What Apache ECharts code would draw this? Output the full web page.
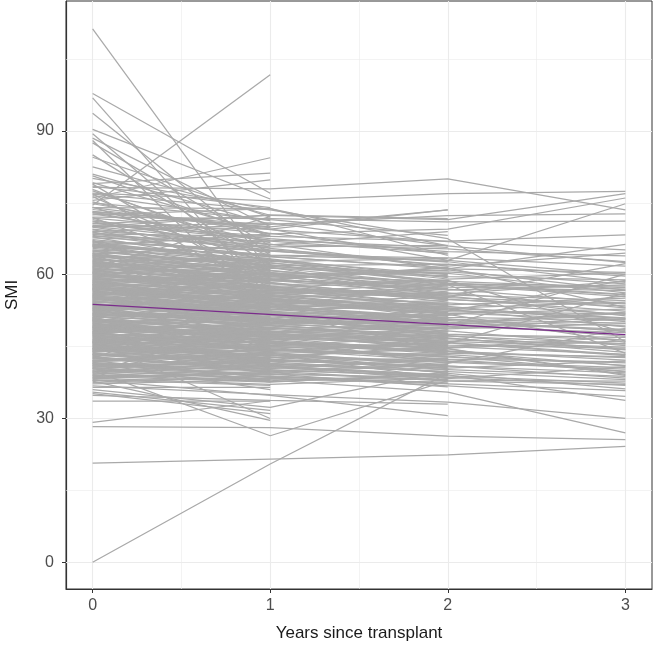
<!DOCTYPE html>
<html>
<head>
<meta charset="utf-8">
<script src="https://cdn.jsdelivr.net/npm/echarts@6/dist/echarts.min.js"></script>
<style>
  html, body { margin: 0; padding: 0; background: #fff; }
  #chart { width: 653px; height: 645px; }
</style>
</head>
<body>
<div id="chart"></div>
<script>
// Time points (years since transplant)
const years = [0, 1, 2, 3];

// Ticks and grid positions
const xTicks = [0, 1, 2, 3];
const xGrid = [0, 0.5, 1, 1.5, 2, 2.5, 3];
const yTicks = [0, 30, 60, 90];
const yGrid = [0, 15, 30, 45, 60, 75, 90, 105];

// Subjects seen at years 0 and 1 only: [year0, year1]
const followedToYear1 = [
  [52.6, 49.3], [60.4, 57.2], [45.9, 43.1], [57.1, 53.8], [48.5, 46.9], [66.9, 62.3],
  [40.9, 41.7], [55.4, 51.1], [71.5, 64.8], [47.2, 45.8], [59.1, 58.6], [42.6, 40.3],
  [50.9, 47.4], [63.2, 60.7], [56.4, 54.9], [38.3, 39.6], [46.6, 42.5], [61.8, 55.7],
  [69.1, 66.8], [44.3, 44.9], [53.5, 50.6], [49.9, 46.3], [58.4, 56.5], [41.4, 38.7],
  [64.1, 59.4], [45.3, 43.7], [51.7, 51.2], [62.7, 58.1], [74.8, 68.5], [43.3, 42.1],
  [57.8, 52.4], [48.1, 48.8], [61.1, 59.9], [39.5, 37.8], [54.2, 53.6], [67.9, 61.6],
  [37.2, 38.1], [50.3, 45.9], [59.7, 57.7], [46.8, 44.6], [52.8, 54.3], [65.2, 63.4],
  [43.6, 40.8], [56.6, 53.1], [49.2, 47.8], [60.2, 56.9], [42.2, 43.5], [55.1, 52.2],
  [72.7, 67.1], [47.9, 45.1], [58.9, 59.3], [44.7, 41.4], [51.2, 49.7], [63.7, 61.2],
  [40.1, 39.1], [53.9, 48.4], [68.4, 65.6], [46.1, 46.7], [57.3, 55.4], [50.5, 52.1],
  [54.8, 52.3], [47.5, 44.2], [61.9, 60.1], [43.8, 46.4], [58.6, 54.2], [50.8, 48.5],
  [65.7, 64.3], [40.6, 37.9], [56.2, 57.8], [45.1, 42.7], [52.3, 50.9], [68.9, 63.1],
  [38.9, 40.5], [59.3, 55.6], [48.6, 49.4], [63.4, 58.8], [42.9, 39.8], [55.9, 56.6],
  [46.4, 47.3], [70.3, 68.1], [51.4, 46.8], [57.5, 58.4], [44.1, 45.5], [62.4, 57.5],
  [49.5, 51.3], [53.1, 47.6], [66.2, 60.9], [41.9, 43.2], [60.8, 62.5], [47.4, 41.9],
  [55.3, 55.1], [73.1, 70.4], [39.9, 38.3], [58.0, 61.1], [45.7, 48.1], [64.3, 66.2],
  [50.0, 44.6], [56.9, 50.5], [43.0, 37.6], [61.6, 63.8],
  [44.6, 39.4], [51.6, 53.7], [58.7, 52.8], [47.7, 50.2], [62.1, 59.1], [40.4, 42.4],
  [55.7, 49.8], [49.0, 43.9], [66.5, 58.7], [53.0, 55.9], [45.5, 40.1], [60.6, 54.5],
  [38.1, 36.9], [57.9, 60.4], [48.8, 44.0], [64.9, 62.0], [42.0, 38.5], [54.5, 51.8],
  [69.9, 64.6], [51.1, 42.8],
  [79.2, 68.4], [77.8, 63.9], [76.5, 71.3], [75.2, 66.7], [74.1, 62.5], [72.9, 69.8],
  [71.9, 58.6], [70.6, 72.4], [69.4, 61.7], [78.9, 57.2], [80.1, 73.6], [76.9, 55.8],
  [42.5, 56.3], [64.5, 47.2], [39.6, 50.8], [58.2, 44.1], [61.5, 72.1], [50.4, 63.5],
  [67.2, 52.9],
  [111.3, 60.5], [74.5, 101.7], [97.8, 77.0], [96.9, 55.0], [93.7, 64.0], [90.3, 75.8],
  [89.4, 58.0], [88.0, 52.0], [87.5, 66.0], [85.0, 62.0], [84.5, 72.0], [76.0, 84.4],
  [80.6, 68.0], [79.0, 81.2], [78.5, 74.0], [81.0, 70.5], [77.5, 65.0], [76.3, 60.0],
  [75.5, 79.8], [73.2, 70.0],
  [29.2, 33.7], [33.6, 33.6], [35.5, 31.7], [35.2, 31.0], [36.5, 36.5], [37.8, 29.6],
  [46.0, 30.0], [41.5, 36.0]
];

// Subjects seen at years 0, 1 and 2: [year0, year1, year2]
const followedToYear2 = [
  [55.2, 52.8, 51.4], [47.1, 48.3, 45.6], [62.8, 58.9, 57.2], [41.6, 40.2, 38.7],
  [58.3, 56.1, 53.8], [50.6, 47.9, 49.1], [68.2, 63.7, 61.5], [44.5, 43.8, 41.2],
  [53.8, 50.3, 48.6], [39.2, 41.4, 39.8], [60.7, 59.2, 56.4], [48.4, 45.6, 44.9],
  [56.9, 55.7, 52.1], [43.1, 41.9, 42.6], [65.9, 60.4, 59.8], [51.3, 49.4, 46.8],
  [46.2, 47.7, 44.3], [59.6, 54.8, 53.6], [37.5, 38.9, 37.3], [54.4, 53.1, 50.7],
  [71.8, 68.6, 64.3], [49.1, 46.4, 47.5], [57.4, 53.9, 54.6], [42.7, 40.6, 39.1],
  [63.9, 62.1, 58.3], [45.8, 44.3, 42.1], [52.1, 51.8, 49.4], [61.4, 57.6, 55.1],
  [40.3, 38.2, 37.6], [55.7, 56.3, 53.2], [47.8, 43.9, 43.4], [66.8, 64.9, 62.6],
  [50.1, 50.9, 47.8], [58.7, 55.1, 51.9], [44.0, 45.7, 43.5], [53.2, 48.8, 47.3],
  [69.5, 65.8, 66.1], [38.4, 37.1, 38.5], [56.1, 54.2, 55.3], [48.7, 47.3, 45.2],
  [62.3, 61.5, 57.8], [45.1, 42.4, 40.8], [51.5, 52.4, 50.2], [59.9, 58.4, 54.7],
  [43.7, 39.5, 41.3], [64.6, 59.7, 60.9], [49.6, 48.6, 46.1], [57.9, 57.2, 52.6],
  [41.1, 42.8, 40.4], [54.6, 49.9, 51.6],
  [53.4, 51.5, 49.3], [46.7, 45.2, 47.1], [60.3, 57.8, 58.9], [42.4, 43.6, 40.1],
  [57.0, 54.5, 51.7], [49.3, 50.6, 48.2], [64.2, 60.9, 57.6], [44.9, 41.8, 39.6],
  [55.6, 52.6, 53.8], [38.6, 39.9, 41.4], [59.2, 56.7, 55.5], [47.7, 46.5, 43.7],
  [52.5, 53.4, 50.9], [66.3, 62.7, 63.4], [41.7, 38.6, 38.1], [56.5, 55.2, 51.3],
  [50.9, 47.7, 46.3], [62.9, 63.3, 59.4], [45.4, 43.1, 44.6], [54.0, 50.1, 48.9],
  [67.7, 66.4, 61.2], [40.7, 41.1, 37.9], [58.5, 59.6, 56.9], [48.0, 44.4, 42.8],
  [53.6, 54.9, 52.3], [61.0, 56.2, 57.1], [43.5, 42.6, 45.3], [57.1, 53.4, 49.6],
  [49.0, 49.1, 50.6], [65.1, 61.3, 60.2], [39.1, 37.7, 39.2], [55.0, 51.9, 48.2],
  [46.0, 48.9, 46.6], [60.0, 61.8, 58.7], [51.0, 45.3, 44.1], [63.0, 58.2, 54.3],
  [44.4, 40.7, 42.5], [52.7, 56.8, 55.8], [70.7, 67.2, 65.7], [48.3, 42.3, 40.6],
  [56.0, 54.8, 52.0], [48.9, 47.0, 45.0], [61.2, 60.5, 56.0], [43.3, 41.2, 38.4],
  [53.0, 52.1, 51.0], [58.9, 57.5, 53.5], [45.7, 46.1, 42.0], [50.3, 49.8, 48.0],
  [64.0, 63.0, 60.0], [40.9, 39.3, 36.6], [55.3, 53.7, 50.4], [47.4, 48.0, 49.7],
  [60.5, 55.5, 52.9], [42.0, 44.5, 43.0], [52.2, 47.2, 45.9], [67.0, 65.0, 62.0],
  [49.9, 51.7, 46.9], [57.6, 52.0, 50.0], [44.3, 43.3, 39.4], [54.8, 55.8, 54.0],
  [62.5, 59.0, 61.6], [46.4, 42.0, 41.0], [51.8, 50.0, 52.8], [59.5, 60.0, 55.0],
  [41.3, 40.0, 39.0], [56.7, 51.5, 47.5], [48.1, 49.9, 47.7], [63.6, 57.0, 56.2],
  [45.0, 44.0, 46.0], [53.9, 52.4, 43.9],
  [88.5, 70.0, 73.5], [74.0, 73.8, 64.0], [70.0, 72.5, 71.7], [72.5, 73.8, 66.0],
  [70.2, 69.5, 73.5], [75.0, 71.5, 68.2], [68.0, 67.0, 64.5], [73.0, 66.2, 69.0],
  [0.0, 20.5, 39.4], [40.0, 26.4, 37.9], [36.0, 32.3, 40.0], [34.8, 33.8, 33.0],
  [38.0, 34.8, 30.6]
];

// Subjects seen at all four visits: [year0, year1, year2, year3]
const followedToYear3 = [
  [52.4, 50.1, 49.8, 47.2], [61.3, 58.7, 57.9, 55.4], [44.8, 43.2, 41.9, 40.6],
  [57.6, 55.9, 52.3, 51.8], [48.2, 47.5, 46.1, 44.9], [66.4, 63.8, 61.2, 60.5],
  [39.7, 40.8, 38.9, 37.4], [54.9, 51.6, 50.4, 49.3], [71.2, 67.5, 64.8, 63.9],
  [46.3, 44.7, 45.8, 43.1], [58.8, 60.2, 57.4, 56.7], [42.1, 41.5, 40.2, 38.8],
  [50.7, 48.9, 47.6, 46.4], [63.5, 59.8, 58.6, 57.3], [55.8, 53.2, 54.1, 51.7],
  [37.9, 38.4, 37.2, 35.8], [47.6, 46.2, 43.9, 42.7], [60.1, 56.4, 55.2, 53.9],
  [68.7, 65.2, 62.7, 58.4], [43.9, 45.1, 42.8, 41.6], [53.3, 52.8, 50.1, 48.6],
  [49.4, 47.1, 48.3, 45.2], [57.2, 54.6, 51.9, 52.8], [40.5, 39.2, 38.6, 36.9],
  [64.8, 61.7, 60.3, 56.2], [45.6, 42.9, 41.7, 40.3], [51.9, 50.4, 49.2, 47.9],
  [59.4, 57.1, 55.8, 54.6], [73.6, 69.4, 66.9, 65.2], [41.8, 43.6, 40.9, 39.5],
  [56.3, 52.7, 53.4, 50.2], [48.9, 49.6, 46.7, 44.3], [62.2, 60.8, 58.1, 57.6],
  [44.2, 41.3, 39.8, 38.1], [54.1, 54.7, 52.6, 50.9], [67.3, 64.1, 63.5, 61.8],
  [38.8, 37.6, 39.4, 36.2], [50.2, 46.8, 45.3, 44.7], [58.1, 55.3, 56.2, 53.1],
  [46.9, 45.7, 44.1, 42.2], [53.7, 51.2, 48.7, 49.8], [60.9, 58.3, 54.9, 52.4],
  [43.4, 44.2, 43.3, 41.1], [65.5, 62.4, 59.6, 58.9], [49.8, 48.1, 47.2, 45.6],
  [56.8, 57.4, 54.8, 53.5], [41.2, 39.9, 37.8, 37.1], [52.9, 49.7, 50.8, 48.1],
  [70.1, 66.3, 65.4, 62.7], [47.3, 44.8, 42.4, 41.8],
  [54.3, 53.5, 51.1, 50.5], [47.0, 45.9, 44.7, 46.2], [59.8, 56.9, 53.7, 55.1],
  [42.8, 40.4, 42.3, 39.9], [57.3, 56.2, 55.6, 51.4], [50.4, 48.2, 45.9, 43.3],
  [63.8, 62.9, 59.1, 60.4], [45.2, 46.9, 43.6, 42.9], [52.0, 49.0, 46.4, 45.5],
  [61.7, 59.5, 60.6, 58.1], [39.0, 38.8, 36.8, 34.6], [55.1, 54.0, 49.9, 52.2],
  [48.6, 46.6, 48.9, 50.8], [66.7, 61.9, 62.2, 59.7], [44.0, 43.4, 38.3, 40.8],
  [58.4, 54.4, 52.8, 49.1], [51.1, 52.2, 51.5, 55.6], [41.5, 41.0, 39.1, 33.8],
  [62.6, 60.4, 57.0, 54.0], [49.7, 45.5, 44.0, 41.0],
  [53.6, 52.0, 50.0, 48.4], [46.1, 44.4, 43.0, 39.7], [60.6, 59.1, 56.8, 57.9],
  [41.0, 42.0, 41.0, 38.4], [56.0, 55.0, 53.0, 54.3], [49.2, 47.6, 46.8, 43.8],
  [64.4, 60.0, 61.0, 56.8], [44.6, 42.2, 40.5, 42.0], [51.5, 51.0, 47.5, 46.9],
  [58.0, 53.8, 52.0, 50.7], [38.5, 39.5, 38.0, 37.8], [54.6, 50.5, 51.7, 45.9],
  [47.9, 48.8, 49.6, 52.0], [62.0, 58.8, 56.0, 58.6], [43.2, 45.0, 44.5, 39.0],
  [57.0, 56.5, 58.0, 55.8], [50.6, 46.0, 44.8, 47.0], [66.0, 63.2, 58.2, 57.0],
  [45.9, 47.4, 45.0, 43.4], [52.6, 53.8, 53.0, 51.0],
  [46.5, 44.1, 45.6, 56.2], [51.8, 50.7, 49.5, 60.1], [60.4, 57.3, 58.8, 47.9],
  [55.5, 53.3, 57.9, 43.6], [44.7, 46.2, 41.5, 48.8], [63.1, 61.6, 55.4, 62.3],
  [39.4, 42.1, 47.3, 44.4], [57.7, 58.9, 61.4, 53.2],
  [78.2, 77.9, 80.0, 73.5], [77.0, 75.4, 76.9, 77.4], [82.5, 72.4, 71.5, 76.9],
  [66.0, 64.0, 63.0, 74.8], [69.0, 70.5, 72.3, 72.7], [72.0, 71.7, 71.0, 71.2],
  [68.5, 68.0, 67.0, 68.3], [76.8, 73.5, 67.5, 46.0], [70.0, 70.8, 66.0, 62.5],
  [66.0, 68.5, 69.5, 76.0], [74.0, 69.5, 63.0, 60.0], [71.0, 65.5, 61.8, 64.5],
  [28.3, 28.1, 26.3, 25.6], [20.7, 21.5, 22.4, 24.2], [40.5, 38.0, 35.5, 27.0],
  [36.8, 35.0, 33.4, 30.0]
];

// Subjects whose first visible visit is after baseline: [year0, year1, year2, year3]
const laterStart = [
  [null, 62.5, 58.3, 55.9], [null, null, 52.4, 58.8], [null, null, 44.6, 39.2],
  [null, 47.9, 45.4, null], [null, null, 61.2, 66.3], [null, 55.6, 50.7, 49.9]
];

// Population trend (fitted line)
const trendYears = [0, 3];
const trendSmi = [53.8, 47.5];

const subjects = [].concat(followedToYear1, followedToYear2, followedToYear3, laterStart);

const series = subjects.map(function (row) {
  const pts = [];
  row.forEach(function (v, i) {
    if (v !== null && v !== undefined) pts.push([years[i], v]);
  });
  return {
    type: 'line',
    data: pts,
    symbol: 'none',
    silent: true,
    z: 3,
    lineStyle: { color: '#a9a9a9', width: 1.25 }
  };
});

// Grid lines drawn under the data
series.unshift({
  type: 'line',
  data: [],
  silent: true,
  z: 1,
  markLine: {
    silent: true,
    z: 1,
    symbol: 'none',
    label: { show: false },
    animation: false,
    data: xGrid.map(function (v) {
      return { xAxis: v, lineStyle: { color: '#ebebeb', width: v % 1 === 0 ? 1.1 : 0.6, type: 'solid' } };
    }).concat(yGrid.map(function (v) {
      return { yAxis: v, lineStyle: { color: '#ebebeb', width: v % 30 === 0 ? 1.1 : 0.6, type: 'solid' } };
    }))
  }
});

series.push({
  type: 'line',
  data: trendYears.map(function (t, i) { return [t, trendSmi[i]]; }),
  symbol: 'none',
  silent: true,
  z: 6,
  lineStyle: { color: '#7a2b8b', width: 1.3 }
});

const chart = echarts.init(document.getElementById('chart'), null, { renderer: 'canvas' });

chart.setOption({
  animation: false,
  backgroundColor: '#ffffff',
  grid: {
    left: 66, right: 1, top: 1, bottom: 56,
    outerBoundsMode: 'none',
    containLabel: false,
    show: true, borderColor: '#333333', borderWidth: 1
  },
  xAxis: {
    type: 'value',
    min: -0.15,
    max: 3.15,
    name: 'Years since transplant',
    nameLocation: 'middle',
    nameGap: 36,
    nameTextStyle: { fontFamily: 'Liberation Sans', fontSize: 17, color: '#1a1a1a' },
    axisLine: { show: true, onZero: false, lineStyle: { color: '#333333', width: 1.2 } },
    axisTick: { show: true, customValues: xTicks, length: 4, lineStyle: { color: '#333333', width: 1 } },
    axisLabel: { customValues: xTicks, margin: 9, fontFamily: 'Liberation Sans', fontSize: 16, color: '#4d4d4d' },
    splitLine: { show: false }
  },
  yAxis: {
    type: 'value',
    min: -5.575,
    max: 117.1,
    name: 'SMI',
    nameLocation: 'middle',
    nameGap: 45,
    nameTextStyle: { fontFamily: 'Liberation Sans', fontSize: 17, color: '#1a1a1a' },
    axisLine: { show: true, onZero: false, lineStyle: { color: '#333333', width: 1.2 } },
    axisTick: { show: true, customValues: yTicks, length: 4, lineStyle: { color: '#333333', width: 1 } },
    axisLabel: { customValues: yTicks, margin: 12, fontFamily: 'Liberation Sans', fontSize: 16, color: '#4d4d4d' },
    splitLine: { show: false }
  },
  series: series
});
</script>
</body>
</html>
